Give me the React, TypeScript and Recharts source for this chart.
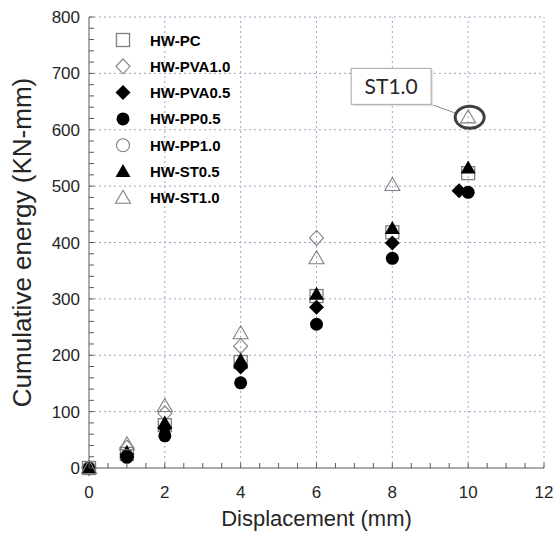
import React from 'react';
import { ScatterChart, Scatter, XAxis, YAxis, ReferenceLine, ReferenceDot, Legend, Label } from 'recharts';

// ---- data ----
const seriesNames = ['HW-PC', 'HW-PVA1.0', 'HW-PVA0.5', 'HW-PP0.5', 'HW-PP1.0', 'HW-ST0.5', 'HW-ST1.0'];

const dataPC = [
  { x: 0, y: 0 }, { x: 1, y: 25 }, { x: 2, y: 76 }, { x: 4, y: 188 }, { x: 6, y: 305 }, { x: 8, y: 418 }, { x: 10, y: 523 },
];
const dataPVA10 = [
  { x: 0, y: 0 }, { x: 1, y: 36 }, { x: 2, y: 97 }, { x: 4, y: 216 }, { x: 6, y: 408 },
];
const dataPVA05 = [
  { x: 0, y: 0 }, { x: 1, y: 24 }, { x: 2, y: 71 }, { x: 4, y: 179 }, { x: 6, y: 285 }, { x: 8, y: 399 }, { x: 9.76, y: 492 },
];
const dataPP05 = [
  { x: 0, y: 0 }, { x: 1, y: 19 }, { x: 2, y: 57 }, { x: 4, y: 151 }, { x: 6, y: 255 }, { x: 8, y: 372 }, { x: 10, y: 489 },
];
const dataPP10 = [{ x: 0, y: 0 }];
const dataST05 = [
  { x: 0, y: 0 }, { x: 1, y: 28 }, { x: 2, y: 80 }, { x: 4, y: 191 }, { x: 6, y: 308 }, { x: 8, y: 425 }, { x: 10, y: 532 },
];
const dataST10 = [
  { x: 0, y: 0 }, { x: 1, y: 42 }, { x: 2, y: 110 }, { x: 4, y: 239 }, { x: 6, y: 372 }, { x: 8, y: 502 }, { x: 10, y: 622 },
];

const xMajorTicks = [0, 2, 4, 6, 8, 10, 12];
const yMajorTicks = [0, 100, 200, 300, 400, 500, 600, 700, 800];
const xMinorStep = 0.5;
const yMinorStep = 20;
const xTicks = Array.from({ length: 12 / xMinorStep + 1 }, (_, i) => i * xMinorStep);
const yTicks = Array.from({ length: 800 / yMinorStep + 1 }, (_, i) => i * yMinorStep);
const xGrid = [2, 4, 6, 8, 10, 12];
const yGrid = [100, 200, 300, 400, 500, 600, 700, 800];

const annotationText = 'ST1.0';
const annotated = dataST10[dataST10.length - 1];

// ---- styles ----
const OPEN = '#7f7f7f';
const FILL = '#000000';
const GRID = '#a0a4c4';
const AXIS = '#595959';
const FONT = 'Arial, "Liberation Sans", sans-serif';

type ShapeKind = 'square' | 'diamondOpen' | 'diamondFill' | 'circleFill' | 'circleOpen' | 'triFill' | 'triOpen';
const seriesShapes: ShapeKind[] = ['square', 'diamondOpen', 'diamondFill', 'circleFill', 'circleOpen', 'triFill', 'triOpen'];
const seriesData = [dataPC, dataPVA10, dataPVA05, dataPP05, dataPP10, dataST05, dataST10];

function Marker({ kind, cx, cy }: { kind: ShapeKind; cx: number; cy: number }) {
  switch (kind) {
    case 'square':
      return <rect x={cx - 6.5} y={cy - 6.5} width={13} height={13} fill="none" stroke={OPEN} strokeWidth={1.3} />;
    case 'diamondOpen':
      return <path d={`M${cx},${cy - 7.5}L${cx + 7},${cy}L${cx},${cy + 7.5}L${cx - 7},${cy}Z`} fill="none" stroke={OPEN} strokeWidth={1.1} />;
    case 'diamondFill':
      return <path d={`M${cx},${cy - 7.5}L${cx + 7.5},${cy}L${cx},${cy + 7.5}L${cx - 7.5},${cy}Z`} fill={FILL} />;
    case 'circleFill':
      return <circle cx={cx} cy={cy} r={6.5} fill={FILL} />;
    case 'circleOpen':
      return <circle cx={cx} cy={cy} r={6.5} fill="none" stroke={OPEN} strokeWidth={1.1} />;
    case 'triFill':
      return <path d={`M${cx},${cy - 7.5}L${cx + 7.5},${cy + 5.5}L${cx - 7.5},${cy + 5.5}Z`} fill={FILL} />;
    case 'triOpen':
      return <path d={`M${cx},${cy - 7.5}L${cx + 7.5},${cy + 5.5}L${cx - 7.5},${cy + 5.5}Z`} fill="none" stroke={OPEN} strokeWidth={1.1} />;
  }
  return null;
}

const makeShape = (kind: ShapeKind) => (props: any) => <Marker kind={kind} cx={props.cx} cy={props.cy} />;

const XTick = (props: any) => {
  const { x, y, payload } = props;
  const v = payload.value;
  const major = xMajorTicks.includes(v);
  return (
    <g>
      <line x1={x} y1={y} x2={x} y2={y - 5} stroke={AXIS} strokeWidth={1} />
      {major && (
        <text x={x} y={y + 30} textAnchor="middle" fontSize={17} fontFamily={FONT} fill="#262626">
          {v}
        </text>
      )}
    </g>
  );
};

const YTick = (props: any) => {
  const { x, y, payload } = props;
  const v = payload.value;
  const major = yMajorTicks.includes(v);
  return (
    <g>
      <line x1={x} y1={y} x2={x + 5} y2={y} stroke={AXIS} strokeWidth={1} />
      {major && (
        <text x={x - 9} y={y + 6} textAnchor="end" fontSize={17} fontFamily={FONT} fill="#262626">
          {v}
        </text>
      )}
    </g>
  );
};

const AnnotationShape = (props: any) => {
  const { cx, cy } = props;
  const bx = cx - 117;
  const by = cy - 49;
  const bw = 80;
  const bh = 36;
  return (
    <g>
      <line x1={bx + bw} y1={by + bh} x2={cx - 12} y2={cy - 4} stroke="#8c8c8c" strokeWidth={1} />
      <rect x={bx + 2} y={by + 2} width={bw} height={bh} fill="#e6e6e6" />
      <rect x={bx} y={by} width={bw} height={bh} fill="#ffffff" stroke="#a6a6a6" strokeWidth={1} />
      <text x={bx + bw / 2} y={by + 26} textAnchor="middle" fontSize={21} fontFamily="Lato, 'Open Sans', sans-serif" fill="#262626">
        {annotationText}
      </text>
      <ellipse cx={cx + 1.5} cy={cy} rx={14.5} ry={11} fill="none" stroke="#404040" strokeWidth={3} />
    </g>
  );
};

const LegendContent = () => (
  <svg width={150} height={195}>
    {seriesNames.map((name, i) => {
      const cy = 20 + i * 26.3;
      return (
        <g key={name}>
          <Marker kind={seriesShapes[i]} cx={23} cy={cy} />
          <text x={50} y={cy + 5.5} fontSize={15} fontWeight="bold" fontFamily={FONT} fill="#000">
            {name}
          </text>
        </g>
      );
    })}
  </svg>
);

export default function App() {
  return (
    <div style={{ position: 'absolute', left: 0, top: 0, background: '#fff' }}>
      <ScatterChart width={557} height={533} margin={{ top: 17, right: 13, bottom: 0, left: 0 }}>
        <XAxis
          type="number"
          dataKey="x"
          domain={[0, 12]}
          ticks={xTicks}
          interval={0}
          tick={<XTick />}
          tickLine={false}
          tickSize={0}
          tickMargin={0}
          height={65}
          axisLine={{ stroke: AXIS, strokeWidth: 1 }}
        >
          <Label
            value="Displacement (mm)"
            position="insideBottom"
            offset={7}
            style={{ fontSize: 22, fontFamily: FONT, fill: '#262626' }}
          />
        </XAxis>
        <YAxis
          type="number"
          dataKey="y"
          domain={[0, 800]}
          ticks={yTicks}
          interval={0}
          tick={<YTick />}
          tickLine={false}
          tickSize={0}
          tickMargin={0}
          width={89}
          axisLine={{ stroke: AXIS, strokeWidth: 1 }}
        >
          <Label
            value="Cumulative energy (KN-mm)"
            angle={-90}
            position="insideLeft"
            offset={22}
            style={{ fontSize: 26, fontFamily: FONT, fill: '#262626', textAnchor: 'middle' }}
          />
        </YAxis>
        {xGrid.map((v) => (
          <ReferenceLine key={'x' + v} x={v} stroke={GRID} strokeDasharray="2 3" strokeWidth={1} />
        ))}
        {yGrid.map((v) => (
          <ReferenceLine key={'y' + v} y={v} stroke={GRID} strokeDasharray="2 3" strokeWidth={1} />
        ))}
        <Legend
          layout="vertical"
          align="center"
          verticalAlign="middle"
          content={<LegendContent />}
          wrapperStyle={{ position: 'absolute', left: 100, top: 20, width: 150, height: 195 }}
        />
        {seriesNames.map((name, i) => (
          <Scatter
            key={name}
            name={name}
            data={seriesData[i]}
            shape={makeShape(seriesShapes[i])}
            isAnimationActive={false}
          />
        ))}
        <ReferenceDot x={annotated.x} y={annotated.y} r={14} shape={<AnnotationShape />} />
      </ScatterChart>
    </div>
  );
}
